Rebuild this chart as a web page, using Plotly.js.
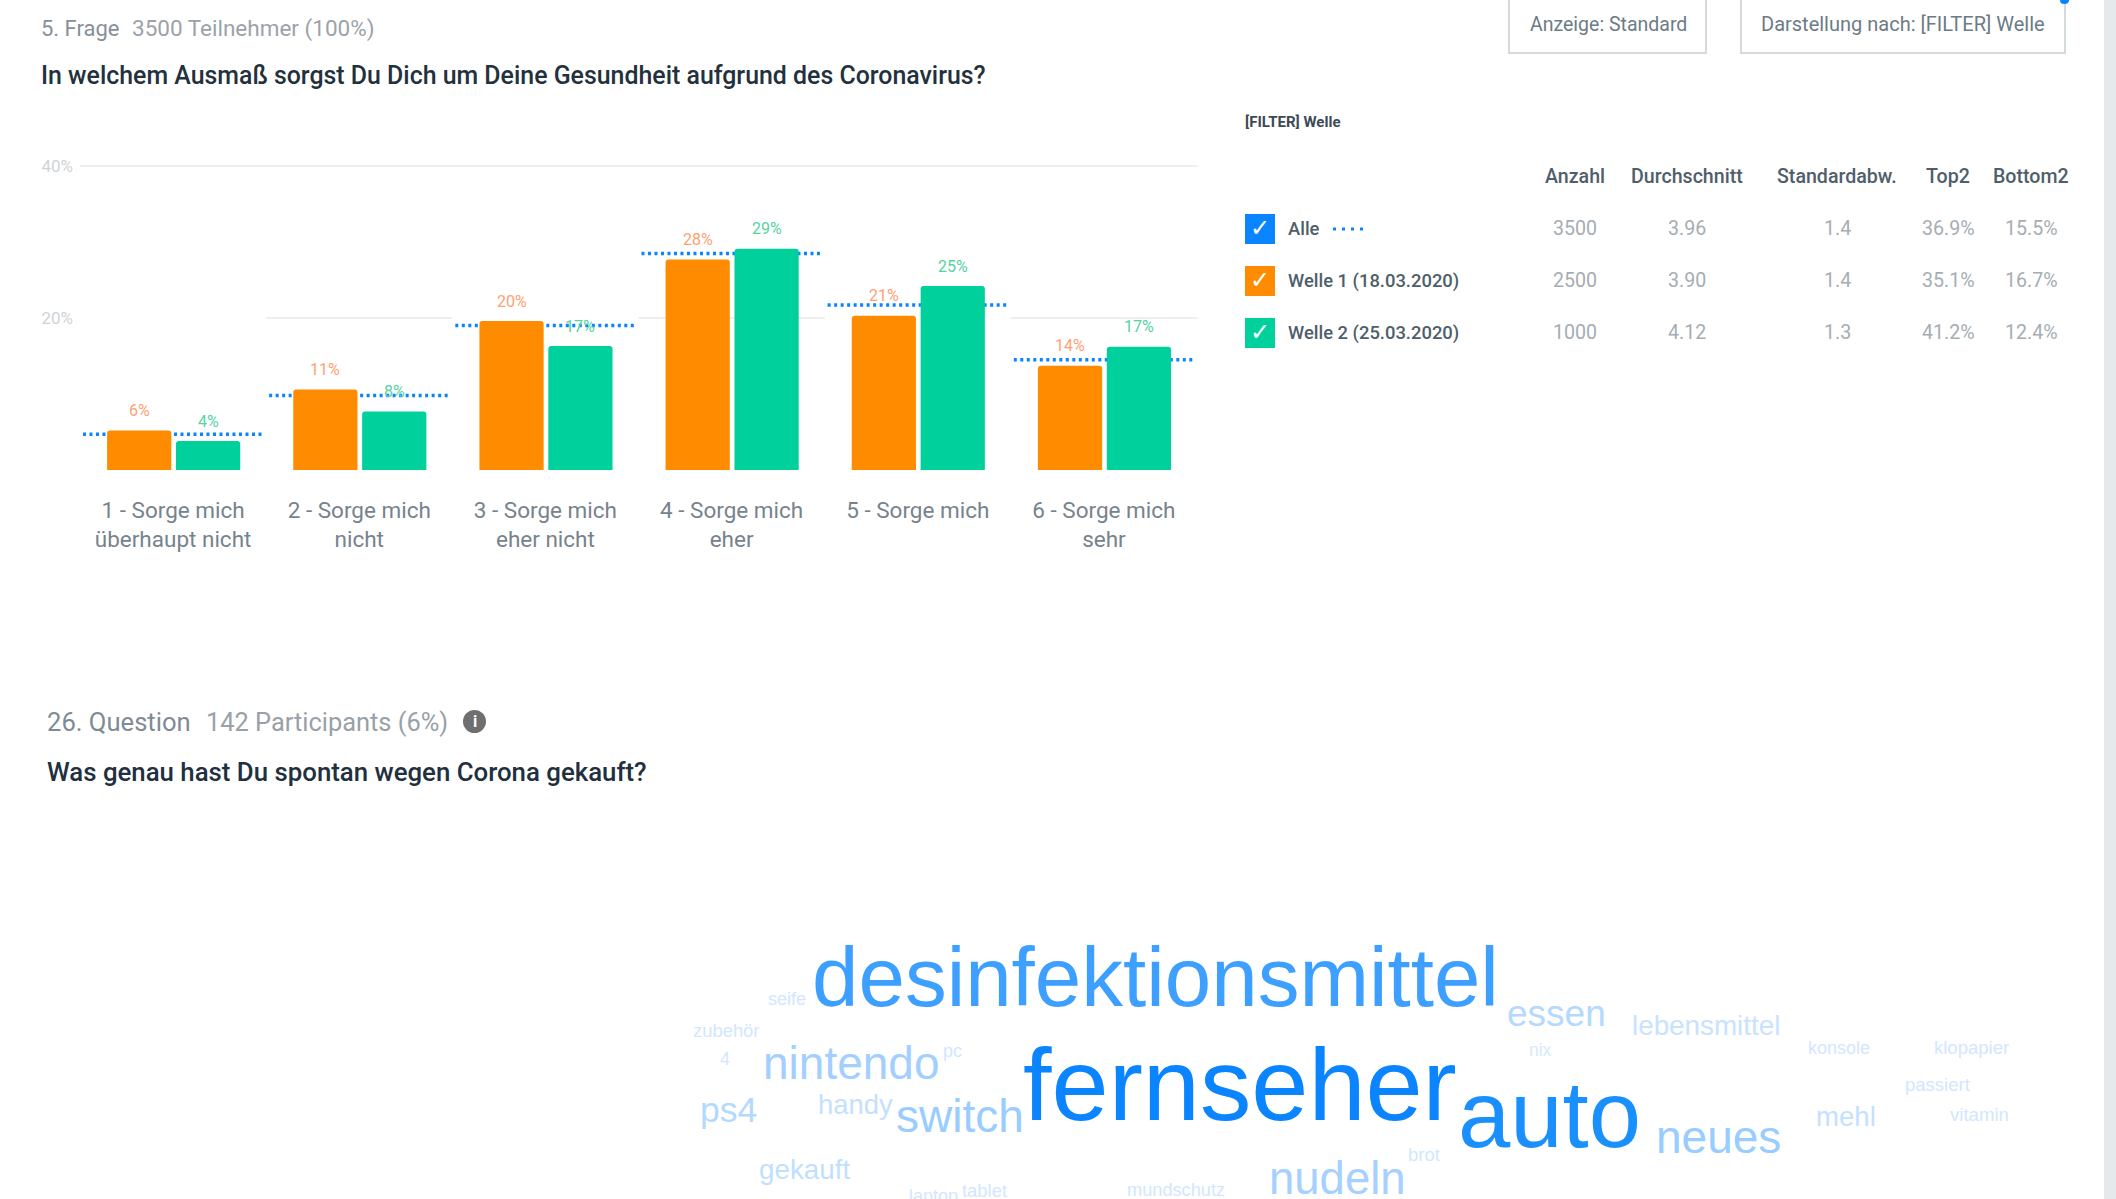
<!DOCTYPE html>
<html><head><meta charset="utf-8">
<script src="https://cdn.plot.ly/plotly-3.0.1.min.js"></script>
<style>html,body{margin:0;padding:0;background:#fff;overflow:hidden}</style>
</head><body><div id="chart" style="width:2116px;height:1199px"></div>
<script>
const categories = ['1 - Sorge mich<br>überhaupt nicht','2 - Sorge mich<br>nicht','3 - Sorge mich<br>eher nicht','4 - Sorge mich<br>eher','5 - Sorge mich','6 - Sorge mich<br>sehr'];
const welle1 = [5.2,10.6,19.6,27.7,20.3,13.7];
const welle2 = [3.8,7.7,16.3,29.1,24.2,16.2];
const alle = [4.7,9.8,19.0,28.5,21.7,14.5];
const welle1Labels = ['6%','11%','20%','28%','21%','14%'];
const welle2Labels = ['4%','8%','17%','29%','25%','17%'];
const tableHeaders = ['Anzahl','Durchschnitt','Standardabw.','Top2','Bottom2'];
const rowNames = ['Alle','Welle 1 (18.03.2020)','Welle 2 (25.03.2020)'];
const rowAlle = ['3500','3.96','1.4','36.9%','15.5%'];
const rowWelle1 = ['2500','3.90','1.4','35.1%','16.7%'];
const rowWelle2 = ['1000','4.12','1.3','41.2%','12.4%'];
const words = ['fernseher','auto','desinfektionsmittel','nintendo','switch','neues','nudeln','essen','ps4','lebensmittel','mehl','handy','gekauft','konsole','klopapier','nix','passiert','vitamin','brot','mundschutz','tablet','laptop','pc','4','zubehör','seife'];
const wordWeights = [102.7,94,83.5,46,46,46,45.5,37,35.5,27.8,27.6,27.4,27.8,18,18.5,17.5,18.5,18.6,18.5,18.2,18.4,18,18,18,18.4,18];

// placement of the cloud on the page: [left, baseline, colour]
const wordPlace = [[1022,1121,'#0a84ff'],[1457,1148,'#1a90ff'],[811,1007,'#3d9fff'],[762,1080,'#a3cfff'],[895,1133,'#99ccff'],[1655,1154,'#99ccff'],[1268,1195,'#a6d0ff'],[1506,1027,'#b3d9ff'],[699,1123,'#b3d9ff'],[1631,1036,'#c8e2ff'],[1815,1127,'#c4e0ff'],[817,1115,'#c4e0ff'],[758,1180,'#bfdfff'],[1807,1055,'#d2e6ff'],[1933,1055,'#d2e6ff'],[1528,1057,'#d6e9ff'],[1904,1092,'#d2e6ff'],[1949,1122,'#d2e6ff'],[1407,1162,'#d2e6ff'],[1126,1197,'#d2e6ff'],[961,1198,'#d2e6ff'],[908,1203,'#d2e6ff'],[942,1058,'#d2e6ff'],[719,1066,'#d2e6ff'],[692,1038,'#d2e6ff'],[767,1006,'#d2e6ff']];

const ORANGE='#ff8c00', GREEN='#00d19c', BLUE='#0a84ff', UI='Roboto, sans-serif';
const L=80,R=1197,T=100,B=470,W=2116,H=1199,YMAX=48.68;
const px=x=>(x-L)/(R-L), py=y=>(B-y)/(B-T);
const idx=categories.map((_,i)=>i);
const BW=0.345, OFF1=-0.182, OFF2=0.188;

const annotations=[], shapes=[];
function txt(x,y,text,size,color,anchor,weight,family){
  annotations.push({xref:'paper',yref:'paper',x:px(x),y:py(y),text:text,showarrow:false,xanchor:anchor||'left',yanchor:'middle',
    font:{size:size,color:color,family:family||UI,weight:weight||400},borderpad:0});
}
function rect(x0,y0,x1,y1,fill,line){
  shapes.push({type:'rect',xref:'paper',yref:'paper',x0:px(x0),x1:px(x1),y0:py(y0),y1:py(y1),fillcolor:fill,line:line||{width:0},layer:'below'});
}

// header of question 5
txt(40,29,'5. Frage',22,'#85909a');
txt(131,29,'3500 Teilnehmer (100%)',22.5,'#9aa3aa');
txt(40,75,'In welchem Ausmaß sorgst Du Dich um Deine Gesundheit aufgrund des Coronavirus?',24.9,'#23313d','left',500);

// buttons
rect(1509,-10,1706,53,'#ffffff',{color:'#d5dadd',width:2});
rect(1741,-10,2065,53,'#ffffff',{color:'#d5dadd',width:2});
txt(1608,24,'Anzeige: Standard',19.5,'#6d7b86','center');
txt(1903,24,'Darstellung nach: [FILTER] Welle',20,'#6d7b86','center');
shapes.push({type:'circle',xref:'paper',yref:'paper',x0:px(2060),x1:px(2069),y0:py(-3),y1:py(4),fillcolor:BLUE,line:{width:0}});

// table
txt(1244,122,'[FILTER] Welle',15,'#3d4a55','left',700);
const colX=[1575,1687,1837,1948,2031];
tableHeaders.forEach((h,i)=>txt(colX[i],176,h,19.6,'#4f5e6a','center',500));
const rowY=[229,281,333], rowC=[BLUE,ORANGE,GREEN];
[rowAlle,rowWelle1,rowWelle2].forEach((row,r)=>{
  rect(1245,rowY[r]-15,1275,rowY[r]+15,rowC[r]);
  txt(1260,rowY[r]-1,'✓',24,'#ffffff','center',700,'DejaVu Sans');
  txt(1287,rowY[r]-0.5,rowNames[r],18.4,'#4f5e6a','left',500);
  row.forEach((v,i)=>txt(colX[i],rowY[r]-0.5,v,19.6,'#a5adb3','center'));
});
shapes.push({type:'line',xref:'paper',yref:'paper',x0:px(1333),x1:px(1365),y0:py(229),y1:py(229),line:{color:BLUE,width:3,dash:'3px,6px'}});

// header of question 26
txt(46,721.5,'26. Question',25.6,'#7f8b94');
txt(205,721.5,'142 Participants (6%)',25.4,'#98a1a8');
shapes.push({type:'circle',xref:'paper',yref:'paper',x0:px(463),x1:px(486),y0:py(733),y1:py(710),fillcolor:'#6f6f6f',line:{width:0}});
txt(474.5,721.5,'i',16,'#ffffff','center',700);
txt(46,772,'Was genau hast Du spontan wegen Corona gekauft?',25.8,'#1f3040','left',500);

// word cloud
words.forEach((w,i)=>{
  const s=wordWeights[i],p=wordPlace[i];
  annotations.push({xref:'paper',yref:'paper',x:px(p[0]),y:py(p[1]+0.212*s),text:w,showarrow:false,xanchor:'left',yanchor:'bottom',borderpad:0,
    font:{size:s,color:p[2],family:'Liberation Sans, Arial, sans-serif'}});
});

// scrollbar strip
rect(2104,-5,2120,1205,'#e6e9ec');

// bar labels
idx.forEach(i=>{
  annotations.push({xref:'x',yref:'y2',x:i+OFF1,y:welle1[i],yshift:20,text:welle1Labels[i],showarrow:false,xanchor:'center',yanchor:'middle',font:{size:16,color:'#ff9f73',family:UI}});
  annotations.push({xref:'x',yref:'y2',x:i+OFF2,y:welle2[i],yshift:20,text:welle2Labels[i],showarrow:false,xanchor:'center',yanchor:'middle',font:{size:16,color:'#55d3a2',family:UI}});
});

// grid segments and the dotted overall line sit on the main axis, bars overlay them
const gridX=[-0.5,5.5,null,0.5,1.5,null,2.5,3.5,null,4.5,5.5], gridY=[40,40,null,20,20,null,20,20,null,20,20];
const dotX=[],dotY=[];
idx.forEach(i=>{dotX.push(i-0.484,i+0.484,null);dotY.push(alle[i],alle[i],null);});

const traces=[
 {type:'scatter',mode:'lines',x:gridX,y:gridY,line:{color:'#eeeeee',width:2},hoverinfo:'skip',showlegend:false},
 {type:'scatter',mode:'lines',name:'Alle',x:dotX,y:dotY,line:{color:BLUE,width:3.5,dash:'3px,3.5px'},showlegend:false},
 {type:'bar',name:'Welle 1 (18.03.2020)',x:idx.map(i=>i+OFF1),y:welle1,width:BW,yaxis:'y2',marker:{color:ORANGE,cornerradius:3},showlegend:false},
 {type:'bar',name:'Welle 2 (25.03.2020)',x:idx.map(i=>i+OFF2),y:welle2,width:BW,yaxis:'y2',marker:{color:GREEN,cornerradius:3},showlegend:false}
];
const layout={
 width:W,height:H,margin:{l:L,r:W-R,t:T,b:H-B,pad:0},paper_bgcolor:'#fff',plot_bgcolor:'rgba(0,0,0,0)',barmode:'overlay',showlegend:false,
 xaxis:{range:[-0.5,5.5],tickvals:idx,ticktext:categories,showgrid:false,zeroline:false,showline:false,ticks:'',ticklabelstandoff:24,tickangle:0,
   tickfont:{size:22.5,color:'#76838d',family:UI}},
 yaxis:{range:[0,YMAX],tickvals:[20,40],ticktext:['20%','40%'],showgrid:false,zeroline:false,showline:false,ticks:'',ticklabelstandoff:6,
   tickfont:{size:17,color:'#cfd3d6',family:UI}},
 yaxis2:{range:[0,YMAX],overlaying:'y',visible:false,showgrid:false,zeroline:false},
 annotations:annotations,shapes:shapes
};
Plotly.newPlot('chart',traces,layout,{displayModeBar:false,staticPlot:true});
</script></body></html>
